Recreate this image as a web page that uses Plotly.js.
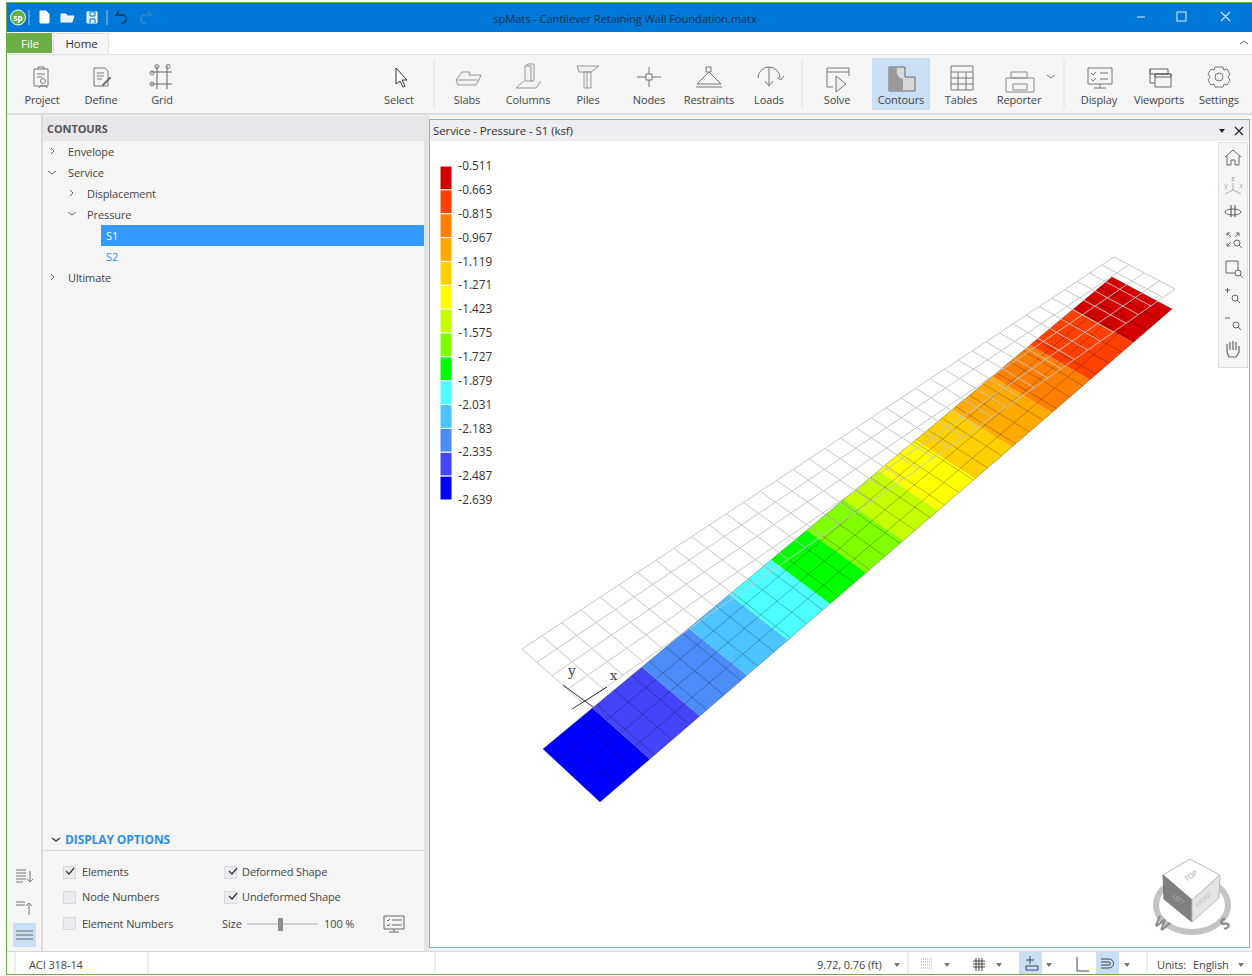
<!DOCTYPE html>
<html><head><meta charset="utf-8">
<script src="https://cdn.plot.ly/plotly-3.0.1.min.js"></script>
<style>
html,body{margin:0;padding:0;background:#fff;width:1252px;height:976px;overflow:hidden;font-family:"Open Sans",sans-serif;font-size:11px;color:#444}
.b{position:absolute}
.t{position:absolute;white-space:nowrap;transform:translate(-50%,calc(-50% - 1px));color:#444;letter-spacing:-.1px}
.l{position:absolute;white-space:nowrap;transform:translateY(calc(-50% - 1px));color:#444;letter-spacing:-.1px}
#plot{position:absolute;left:431px;top:141px;width:817px;height:806px;z-index:1}
#ov{position:absolute;left:0;top:0;z-index:3;pointer-events:none}
.cb{position:absolute;width:11px;height:11px;background:#ecebf0;border:1px solid #d8d8de}
</style></head><body>
<div class="b" style="left:6px;top:2px;width:1246px;height:972px;background:#f5f5f5"></div>
<div class="b" style="left:6px;top:2px;width:1246px;height:1px;background:#6aae45"></div>
<div class="b" style="left:6px;top:2px;width:1px;height:972px;background:#6aae45"></div>
<div class="b" style="left:6px;top:974px;width:1246px;height:1px;background:#6aae45"></div>
<div class="b" style="left:7px;top:3px;width:1245px;height:29px;background:#0078d7"></div>
<div class="b" style="left:7px;top:32px;width:1245px;height:22px;background:#fff"></div>
<div class="b" style="left:7px;top:33px;width:45px;height:20px;background:#6aae45"></div>
<div class="b" style="left:53px;top:33px;width:56px;height:21px;background:#f5f5f5;border:1px solid #e0e0e0;border-bottom:none;box-sizing:border-box"></div>
<div class="b" style="left:7px;top:54px;width:1245px;height:1px;background:#e2e2e2"></div>
<div class="b" style="left:7px;top:113px;width:1245px;height:2px;background:#dcdcdc"></div>
<div class="b" style="left:872px;top:58px;width:58px;height:52px;background:#c9dff5"></div>
<div class="b" style="left:41px;top:115px;width:2px;height:836px;background:#dcdcdc"></div>
<div class="b" style="left:43px;top:116px;width:381px;height:25px;background:#e8e8ec"></div>
<div class="b" style="left:101px;top:225px;width:323px;height:21px;background:#3399ff"></div>
<div class="b" style="left:43px;top:850px;width:381px;height:1px;background:#d8d8d8"></div>
<div class="b" style="left:13px;top:923px;width:23px;height:24px;background:#c9dff5"></div>
<div class="b" style="left:424px;top:115px;width:5px;height:836px;background:#e4e4e4"></div>
<div class="b" style="left:429px;top:119px;width:821px;height:829px;background:#fff;border:1px solid #7db4df;box-sizing:border-box"></div>
<div class="b" style="left:430px;top:120px;width:819px;height:21px;background:#eeeef2"></div>
<div class="b" style="left:7px;top:951px;width:1245px;height:23px;background:#fff;border-top:1px solid #d6d6d6;box-sizing:border-box"></div>
<div class="b" style="left:1019px;top:952px;width:23px;height:22px;background:#c9dff5"></div>
<div class="b" style="left:1096px;top:952px;width:23px;height:22px;background:#c9dff5"></div>
<div class="b" style="left:1218px;top:142px;width:30px;height:226px;background:#f5f5f5;border:1px solid #dedede;box-sizing:border-box;z-index:2"></div>
<div id="plot"></div>
<div id="chrome"></div>
<svg id="ov" width="1252" height="976" fill="none" stroke="#5a5a5a" stroke-width="1">
<circle cx="18" cy="17.5" r="7.5" fill="#6aae45" stroke="#fff"/>
<text x="18" y="20.5" font-size="8" font-weight="700" fill="#fff" stroke="none" text-anchor="middle">sp</text>
<path d="M29 10V25M107 10V25" stroke="#9cc8ec"/>
<path d="M40 11h6l3 3v9h-9z" fill="#fff" stroke="#fff"/>
<path d="M61 14h5l1 2h7l-2 6H61z" fill="#e8eef5" stroke="#fff"/>
<path d="M87 12h10v11H87z" fill="#dfe9f2" stroke="#fff"/>
<path d="M90 12h5v4h-5zM90 23v-4h5v4" stroke="#0078d7"/>
<path d="M119 11l-3 4h7a4 4 0 0 1 -2 8" stroke="#16375a" stroke-width="1.4"/>
<path d="M148 11l3 4h-7a4 4 0 0 0 2 8" stroke="#4b8fc8" stroke-width="1.2"/>
<path d="M1137 17h8M1177 12h9v9h-9zM1221 12l9 9M1230 12l-9 9" stroke="#d9e9f7" stroke-width="1.1"/>
<path d="M1240 44l4-3 4 3" stroke="#666"/>
<g stroke="#777">
<path d="M34 69h14v17H34zM38 69v-2h6v2M37 74h8M37 77h5"/><circle cx="43" cy="81" r="2.500"/><path d="M39 88c0-3 8-3 8 0"/>
<path d="M94 68h11l3 3v15H94zM97 73h7M97 76h7M97 79h5"/><path d="M102 85l8-8 1 1-8 8z" fill="#777"/>
<path d="M151 72h21M151 84h21M157 66v23M167 66v23" stroke="#666"/><circle cx="157" cy="66.500" r="2"/><circle cx="168" cy="66.500" r="2"/><circle cx="152" cy="73" r="2"/><circle cx="152" cy="84" r="2"/>
<path d="M396 68v16l4-3 3 6 2-1-3-6h5z" fill="#fff" stroke="#333"/>
<path d="M434 60v48M802 60v48M1064 60v48" stroke="#dedede"/>
<path d="M456 80l6-8h8l-1 3h12l-2 5-3 5h-18l-2-5zM456 80h22" stroke="#999" fill="#f0f0f0"/>
<path d="M525 66l3-2h6v17h-9zM525 66h6v16M516 88l8-7M516 88h20l5-7" stroke="#999" fill="#f0f0f0"/>
<path d="M577 66h22l-8 6h-12zM584 72h7v16h-7zM587 72v16" stroke="#999" fill="#f0f0f0"/>
<path d="M649 67v20M637 77h24"/><path d="M646 74h6v6h-6z" fill="#f5f5f5"/>
<path d="M709 72l-12 12h24zM696 87h26"/><path d="M706 67h5v5h-5z"/>
<path d="M769 67v19M765 81l4 5 4-5M758 78a11 11 0 1 1 22 0M777 77l4 3 3-4"/>
<path d="M827 68h22v8M827 68v19h6M827 72h22"/><path d="M836 76l10 8-10 8z" fill="#efefef"/>
<path d="M889 67h16v10h10v14H889z" fill="#d8d8d8" stroke="#666"/><path d="M889 67h8q-2 10 6 12v12H889z" fill="#999" stroke="none"/>
<path d="M951 66h22v24H951zM951 72h22M951 78h22M951 84h22M958 72v18M966 72v18"/>
<path d="M1011 72h16v6h-16zM1006 78h28v14h-28zM1013 84h14v6h-14z" stroke="#888"/><path d="M1047 75l4 3 4-3"/>
<path d="M1088 68h24v16h-24zM1094 88h12M1100 84v4M1100 73h8M1100 79h8M1091 73l2 2 3-3M1091 79l2 2 3-3"/>
<path d="M1150 69h18v5h-18zM1150 69v14h5M1155 74h16v13h-16zM1155 74h16v3h-16z" stroke="#666"/>
<circle cx="1219" cy="77" r="4"/><path d="M1215 67h8l1 3 3-1 3 5-2 3 2 3-3 5-3-1-1 3h-8l-1-3-3 1-3-5 2-3-2-3 3-5 3 1z"/>
</g>
<path d="M51 148l3 3-3 3M48 171l4 3 4-3M70 190l3 3-3 3M68 212l4 3 4-3M51 274l3 3-3 3" stroke="#666"/>
<path d="M52 838l4 3 4-3" stroke="#444" stroke-width="1.500"/>
<path d="M1219 129h6l-3 4z" fill="#222" stroke="none"/><path d="M1235 127l8 8M1243 127l-8 8" stroke="#222" stroke-width="1.100"/>
<g stroke="#666">
<path d="M1225 157l8-7 8 7M1227 156v9h4v-5h4v5h4v-9"/>
<path d="M1233 183v7M1233 190l-8 4M1233 190l8 4" stroke="#aaa"/>
<text x="1233" y="181" font-size="7" fill="#888" stroke="none" text-anchor="middle">z</text>
<text x="1226" y="188" font-size="7" fill="#aaa" stroke="none" text-anchor="middle">y</text>
<text x="1241" y="188" font-size="7" fill="#aaa" stroke="none" text-anchor="middle">x</text>
<path d="M1231 205v12M1235 205v12" stroke="#444"/><ellipse cx="1233" cy="212" rx="8" ry="3"/>
<path d="M1227 233l4 4M1239 233l-4 4M1227 246l4-4M1227 233h3M1227 233v3M1239 233h-3M1239 233v3M1227 246h3M1227 246v-3"/><circle cx="1237" cy="243" r="3"/><path d="M1239 245l3 3"/>
<path d="M1226 261h12v12h-12z"/><circle cx="1238" cy="273" r="3" fill="#f5f5f5"/><path d="M1240 275l3 3"/>
<path d="M1225 290h5M1227.500 288v5"/><circle cx="1235" cy="298" r="3"/><path d="M1237 300l3 3"/>
<path d="M1225 318h5"/><circle cx="1236" cy="325" r="3"/><path d="M1238 327l3 3"/>
<path d="M1227 352v-8M1230 350v-8M1233 350v-9M1236 350v-8M1227 352l2 5h7l3-5v-6" stroke-width="1.200"/>
</g>
<path d="M16 870h10M16 873h10M16 876h10M16 879h10M16 882h7M30 871v11M27 879l3 3 3-3" stroke="#777"/>
<path d="M16 902h9M16 905h9M29 915V903M26 906l3-3 3 3" stroke="#777"/>
<path d="M16 931h17M16 935h17M16 939h17" stroke="#666"/>
<path d="M66 871l3 3 5-6M229 871l3 3 5-6M229 896l3 3 5-6" stroke="#333" stroke-width="1.200"/>
<path d="M247 924h71" stroke="#cfcfcf" stroke-width="2"/><path d="M278 918h5v13h-5z" fill="#8d8d8d" stroke="none"/>
<path d="M384 916h20v13h-20zM389 932h10M394 929v3M392 920h10M392 925h10M387 920l1 1 2-2M387 925l1 1 2-2" stroke="#666"/>
<ellipse cx="1192" cy="905" rx="36" ry="27" stroke="#c4c4c4" stroke-width="6"/>
<path d="M1163 875l27-16 30 16-28 25z" fill="#fff" stroke="#bbb"/>
<path d="M1163 875l29 25v22l-28-23z" fill="#808080" stroke="#777"/>
<path d="M1192 900l28-25-1 23-27 24z" fill="#e4e4e4" stroke="#bbb"/>
<text x="1192" y="878" font-size="7" fill="#999" stroke="none" text-anchor="middle" transform="rotate(-30 1192 878)">TOP</text>
<text x="1177" y="901" font-size="6" fill="#aaa" stroke="none" text-anchor="middle" transform="rotate(40 1177 901)">LEFT</text>
<text x="1205" y="901" font-size="6" fill="#bbb" stroke="none" text-anchor="middle" transform="rotate(-40 1205 901)">FRONT</text>
<text x="1161" y="929" font-size="15" font-weight="700" fill="#888" stroke="none" text-anchor="middle" transform="rotate(35 1161 925)">W</text>
<text x="1225" y="929" font-size="15" font-weight="700" fill="#888" stroke="none" text-anchor="middle" transform="rotate(-35 1225 924)">S</text>
<path d="M15 952v22M148 952v22M435 952v22M908 952v22M1147 952v22" stroke="#dcdcdc"/>
<path d="M894 963h6l-3 4zM944 963h6l-3 4zM996 963h6l-3 4zM1046 963h6l-3 4zM1124 963h6l-3 4zM1238 963h6l-3 4z" fill="#777" stroke="none"/>
<path d="M921 959h12M921 962h12M921 965h12M921 968h12" stroke="#aaa" stroke-dasharray="1 1"/>
<path d="M973 961h12M973 964h12M973 967h12M976 958v13M979 958v13M982 958v13" stroke="#444"/>
<path d="M1030 956v8M1026 960h8M1026 966h12v4h-12z" stroke="#444"/>
<path d="M1077 957v14h12" stroke="#444"/>
<path d="M1101 959h8a4 4 0 0 1 0 9h-8M1101 962h8a1 1 0 0 1 0 3h-8" stroke="#444"/>
</svg>
<script>
// ---- contour scale (ksf) ----
const levels = [-0.511,-0.663,-0.815,-0.967,-1.119,-1.271,-1.423,-1.575,-1.727,-1.879,-2.031,-2.183,-2.335,-2.487,-2.639];
const legendColors = ['#d40000','#ff4000','#ff8000','#ffaa00','#ffd000','#ffff00','#c4ff00','#80ff00','#00ff00','#4dffff','#4dc4ff','#4c8cf8','#4444f8','#0000ff'];
// ---- contour band limits along the footing, in element spans from the toe end ----
const bandEnds = [2.75,5.59,8.36,10.84,13.46,15.76,18.20,20.55,23.12,25.74,28.67,31.53,34.88,38];
const spansLong = 38, spansWide = 4;
// ---- view projection corners (near-left, far-left, far-right, near-right) ----
const deformedQuad = [[543,749],[1112,277],[1172,309],[600,802]];
const undeformedQuad = [[522,649],[1114,257],[1175,289],[583,703]];
// ---- local axes ----
const axisY = [[563,685],[593,707]];
const axisX = [[572,709],[607,687]];

function projector(q){
  const [p0,p1,p2,p3]=q;
  const dx1=p1[0]-p2[0],dx2=p3[0]-p2[0],sx=p0[0]-p1[0]+p2[0]-p3[0];
  const dy1=p1[1]-p2[1],dy2=p3[1]-p2[1],sy=p0[1]-p1[1]+p2[1]-p3[1];
  const den=dx1*dy2-dx2*dy1;
  const g=(sx*dy2-dx2*sy)/den,h=(dx1*sy-sx*dy1)/den;
  const a=p1[0]-p0[0]+g*p1[0],b=p3[0]-p0[0]+h*p3[0],d=p1[1]-p0[1]+g*p1[1],e=p3[1]-p0[1]+h*p3[1];
  return (s,w)=>{const u=s/spansLong,v=w/spansWide,k=g*u+h*v+1;return [(a*u+b*v+p0[0])/k,(d*u+e*v+p0[1])/k];};
}
function meshTrace(q,color,width){
  const P=projector(q),x=[],y=[];
  for(let i=0;i<=spansLong;i++){[0,spansWide].forEach(w=>{const p=P(i,w);x.push(p[0]);y.push(p[1]);});x.push(null);y.push(null);}
  for(let j=0;j<=spansWide;j++){[0,spansLong].forEach(s=>{const p=P(s,j);x.push(p[0]);y.push(p[1]);});x.push(null);y.push(null);}
  return {type:'scatter',mode:'lines',x,y,hoverinfo:'skip',line:{color,width},showlegend:false};
}
const Pd=projector(deformedQuad);
const bands=bandEnds.map((end,i)=>{
  const start=i?bandEnds[i-1]:0;
  const c=[Pd(start,0),Pd(end,0),Pd(end,spansWide),Pd(start,spansWide)];
  return {type:'scatter',mode:'lines',fill:'toself',x:c.map(p=>p[0]),y:c.map(p=>p[1]),
    fillcolor:legendColors[legendColors.length-1-i],line:{width:0},hoverinfo:'skip',showlegend:false};
});
const traces=[...bands,
  meshTrace(deformedQuad,'rgba(0,0,0,0.32)',0.8),
  meshTrace(undeformedQuad,'rgba(196,196,196,0.95)',1),
  {type:'scatter',mode:'lines',x:axisY.map(p=>p[0]),y:axisY.map(p=>p[1]),line:{color:'#333',width:1},hoverinfo:'skip',showlegend:false},
  {type:'scatter',mode:'lines',x:axisX.map(p=>p[0]),y:axisX.map(p=>p[1]),line:{color:'#333',width:1},hoverinfo:'skip',showlegend:false},
  {type:'bar',xaxis:'x2',yaxis:'y2',x:legendColors.map(()=>0),width:legendColors.map(()=>1),
   base:levels.slice(1),y:levels.slice(1).map((v,i)=>levels[i]-v),
   marker:{color:legendColors,line:{color:'#fff',width:1}},hoverinfo:'skip',showlegend:false}
];
const W=817,H=806,L=431,T=141;
const layout={width:W,height:H,margin:{l:0,r:0,t:0,b:0},paper_bgcolor:'#fff',plot_bgcolor:'rgba(0,0,0,0)',showlegend:false,barmode:'overlay',
  xaxis:{range:[L,L+W],visible:false,fixedrange:true,domain:[0,1]},
  yaxis:{range:[T+H,T],visible:false,fixedrange:true,domain:[0,1]},
  xaxis2:{domain:[(440-L)/W,(452-L)/W],range:[-0.5,0.5],visible:false,fixedrange:true,anchor:'y2'},
  yaxis2:{domain:[(T+H-500)/H,(T+H-166)/H],range:[levels[levels.length-1],levels[0]],anchor:'x2',side:'right',
    tickmode:'array',tickvals:levels,ticktext:levels.map(v=>v.toFixed(3)),ticks:'outside',ticklen:3,tickcolor:'rgba(0,0,0,0)',
    showgrid:false,zeroline:false,showline:false,fixedrange:true,tickfont:{family:'"Open Sans",sans-serif',size:11.8,color:'#333'}},
  annotations:[
    {x:571,y:671,xref:'x',yref:'y',text:'y',showarrow:false,font:{family:'"DejaVu Serif",serif',size:14,color:'#444'}},
    {x:614,y:675,xref:'x',yref:'y',text:'x',showarrow:false,font:{family:'"DejaVu Serif",serif',size:13,color:'#444'}}
  ]};
Plotly.newPlot('plot',traces,layout,{staticPlot:true,displayModeBar:false});

// ---- application text ----
const ribbonLabels=[['Project',42],['Define',101],['Grid',162],['Select',399],['Slabs',467],['Columns',528],['Piles',588],['Nodes',649],['Restraints',709],['Loads',769],['Solve',837],['Contours',901],['Tables',961],['Reporter',1019],['Display',1099],['Viewports',1159],['Settings',1219]];
const treeLabels=[['Envelope',68,152],['Service',68,173],['Displacement',87,194],['Pressure',87,215],['Ultimate',68,278]];
const optionLabels=[['Elements',82,872],['Node Numbers',82,897],['Element Numbers',82,924],['Deformed Shape',242,872],['Undeformed Shape',242,897],['Size',222,924],['100 %',324,924]];
const boxes=[[63,866],[63,891],[63,917],[224,866],[224,891]];
const host=document.getElementById('chrome');
function add(cls,txt,x,y,extra){const d=document.createElement('div');d.className=cls;d.textContent=txt;d.style.left=x+'px';d.style.top=y+'px';d.style.zIndex=3;if(extra)Object.assign(d.style,extra);host.appendChild(d);}
ribbonLabels.forEach(r=>add('t',r[0],r[1],100));
treeLabels.forEach(r=>add('l',r[0],r[1],r[2]));
optionLabels.forEach(r=>add('l',r[0],r[1],r[2]));
boxes.forEach(b=>{const d=document.createElement('div');d.className='cb';d.style.left=b[0]+'px';d.style.top=b[1]+'px';d.style.zIndex=2;host.appendChild(d);});
add('t','spMats - Cantilever Retaining Wall Foundation.matx',625,19,{color:'#17324d',fontSize:'11.2px'});
add('t','File',30,44,{color:'#fff',fontSize:'11.5px'});
add('t','Home',81.5,44,{color:'#333',fontSize:'11.5px'});
add('l','CONTOURS',47,129,{fontWeight:'700',color:'#555'});
add('l','S1',106,236,{color:'#fff'});
add('l','S2',106,257,{color:'#2f8fe6'});
add('l','DISPLAY OPTIONS',65,840,{fontWeight:'700',color:'#2f8fe6',fontSize:'12px'});
add('l','Service - Pressure - S1 (ksf)',433,131,{color:'#333',fontSize:'11.5px'});
add('l','ACI 318-14',29,965);
add('l','9.72, 0.76 (ft)',817,965);
add('l','Units:',1157,965);
add('l','English',1193,965);
</script>
</body></html>
